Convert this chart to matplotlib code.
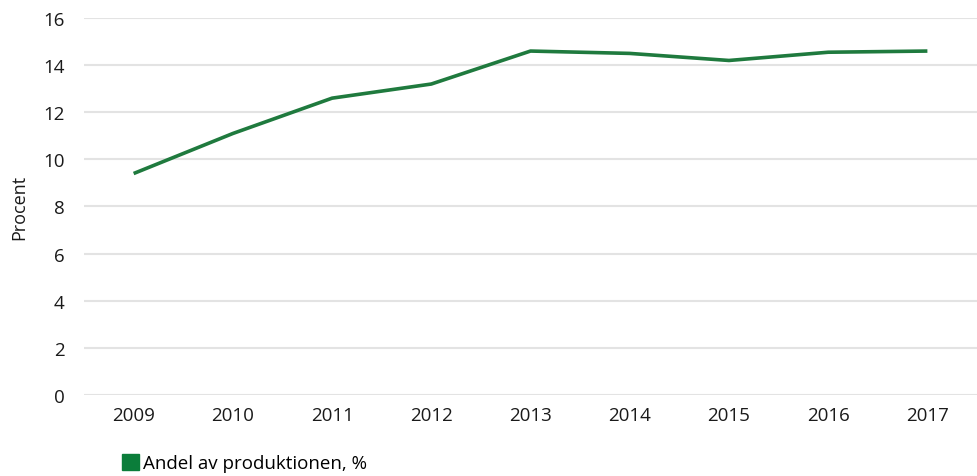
import matplotlib
matplotlib.use("Agg")
import matplotlib.pyplot as plt
from matplotlib.patches import Patch

years = ['2009', '2010', '2011', '2012', '2013', '2014', '2015', '2016', '2017']
share = [9.4, 11.1, 12.6, 13.2, 14.6, 14.5, 14.2, 14.55, 14.6]
yticks = [0, 2, 4, 6, 8, 10, 12, 14, 16]

plt.rcParams['font.family'] = ['Open Sans', 'DejaVu Sans']

fig = plt.figure(figsize=(9.77, 4.77), dpi=100)
ax = fig.add_axes([0.086, 0.170, 0.914, 0.790])

x = list(range(len(years)))
ax.plot(x, share, color='#1f7a3e', lw=2.6, solid_capstyle='butt', zorder=3)

ax.set_xlim(-0.5, len(years) - 0.5)
ax.set_ylim(0, 16)
ax.set_yticks(yticks)
ax.set_xticks(x)
ax.set_xticklabels(years)
ax.grid(axis='y', color='#e3e3e3', lw=1.5)
ax.set_axisbelow(True)
for s in ax.spines.values():
    s.set_visible(False)
ax.tick_params(length=0, labelsize=13.5, colors='#1a1a1a')
ax.tick_params(axis='x', pad=8)
ax.tick_params(axis='y', pad=14)
ax.set_ylabel('Procent', fontsize=13, color='#1a1a1a', labelpad=11)

handle = Patch(color='#0b7d3a', label='Andel av produktionen, %')
fig.legend(handles=[handle], loc='lower left', bbox_to_anchor=(0.108, -0.028),
           frameon=False, fontsize=13.5, handlelength=0.9, handleheight=0.9,
           handletextpad=0.2)

fig.savefig('out.png', dpi=100)
